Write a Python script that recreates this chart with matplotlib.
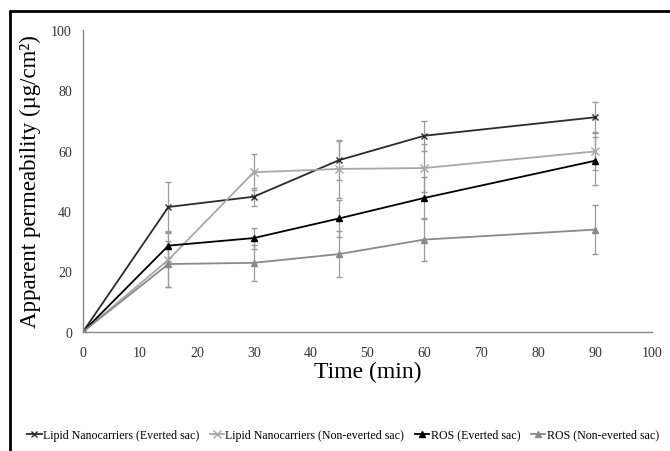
import numpy as np
import matplotlib.pyplot as plt
from matplotlib.patches import Rectangle
from matplotlib.lines import Line2D

plt.rcParams['font.family'] = ['Liberation Serif', 'DejaVu Serif']

time = [0, 15, 30, 45, 60, 90]

lipid_ev = [0, 41.3, 44.7, 56.8, 64.9, 71.0]
lipid_ev_err = [0, 8.3, 3.0, 6.5, 5.0, 5.0]

lipid_nev = [0, 23.8, 52.8, 53.9, 54.2, 59.7]
lipid_nev_err = [0, 9.0, 6.0, 9.7, 8.0, 6.0]

ros_ev = [0, 28.5, 31.0, 37.5, 44.3, 56.6]
ros_ev_err = [0, 5.0, 3.5, 6.0, 7.0, 8.0]

ros_nev = [0, 22.4, 22.8, 25.7, 30.5, 33.8]
ros_nev_err = [0, 7.7, 6.0, 7.6, 7.0, 8.0]

labels = ['Lipid Nanocarriers (Everted sac)',
          'Lipid Nanocarriers (Non-everted sac)',
          'ROS (Everted sac)',
          'ROS (Non-everted sac)']

fig = plt.figure(figsize=(6.7, 4.52), dpi=100)
ax = fig.add_axes([0.124, 0.264, 0.849, 0.668])

series = [
    (lipid_ev, lipid_ev_err, '#2b2b2b', 'x', 5),
    (lipid_nev, lipid_nev_err, '#a8a8a8', 'x', 6),
    (ros_ev, ros_ev_err, '#000000', '^', 4),
    (ros_nev, ros_nev_err, '#8a8a8a', '^', 4),
]

handles = []
for (vals, err, col, mk, ms), lab in zip(series, labels):
    ax.errorbar(time, vals, yerr=err, color=col, ecolor='#9a9a9a',
                elinewidth=0.9, capsize=2, capthick=0.8,
                marker=mk, markersize=ms, markeredgewidth=1.0,
                linewidth=1.3)
    handles.append(Line2D([], [], color=col, marker=mk, markersize=ms,
                          markeredgewidth=1.0, linewidth=1.3, label=lab))

ax.set_xlim(0, 100)
ax.set_ylim(0, 100)
ax.set_xticks(np.arange(0, 101, 10))
ax.set_yticks(np.arange(0, 101, 20))
ax.tick_params(length=0, labelsize=10, colors='#333333')
ax.tick_params(axis='x', pad=10)
ax.tick_params(axis='y', pad=8)
for s in ['top', 'right']:
    ax.spines[s].set_visible(False)
for s in ['left', 'bottom']:
    ax.spines[s].set_color('#888888')
    ax.spines[s].set_linewidth(1.0)

ax.set_xlabel('Time (min)', fontsize=17, labelpad=2)
ax.set_ylabel('Apparent permeability (\u00b5g/cm\u00b2)', fontsize=16.5, labelpad=7)

fig.legend(handles=handles, loc='center', bbox_to_anchor=(0.512, 0.036),
           ncol=4, frameon=False, fontsize=8.6, handlelength=1.2,
           handletextpad=0.1, columnspacing=0.9)

fig.patches.append(Rectangle((10 / 670, -0.1), 1.2, 1 - 12 / 452 + 0.1,
                             transform=fig.transFigure, fill=False,
                             edgecolor='black', linewidth=2))

fig.savefig('out.png', dpi=100)
